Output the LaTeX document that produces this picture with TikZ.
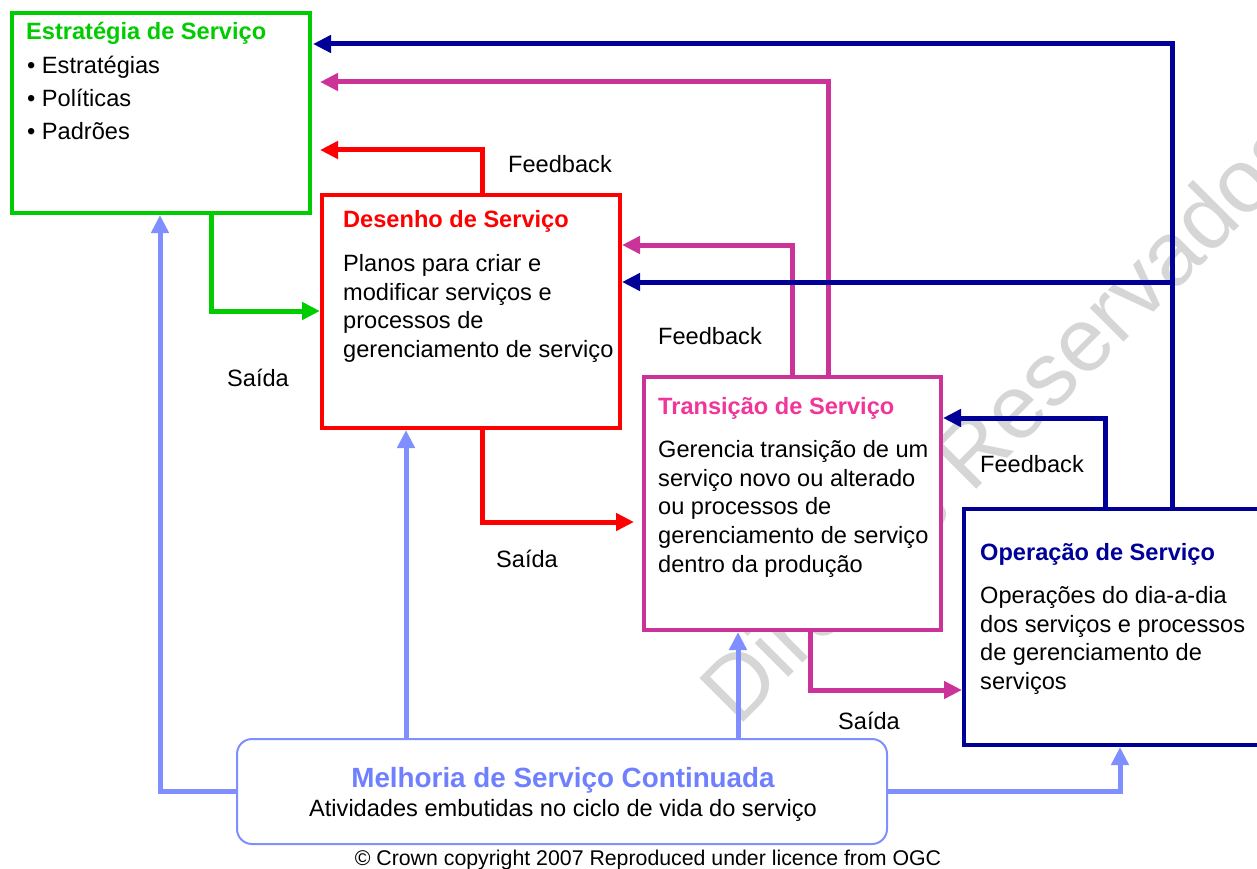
\documentclass[tikz,border=0pt]{standalone}
\usepackage{fontspec}
\setmainfont{Liberation Sans}
\usetikzlibrary{arrows.meta}

\definecolor{stratgreen}{HTML}{00CC00}
\definecolor{desred}{HTML}{FF0000}
\definecolor{transmag}{HTML}{CC3399}
\definecolor{transpink}{HTML}{F0359B}
\definecolor{opnavy}{HTML}{000099}
\definecolor{csiblue}{HTML}{7F8FFF}
\definecolor{csititle}{HTML}{6F80FF}
\definecolor{wmgray}{HTML}{D6D6D6}

\newcommand{\fsz}[1]{\fontsize{#1}{#1}\selectfont}

\begin{document}
\begin{tikzpicture}
        [x=1pt,y=-1pt,
        box/.style={draw=#1,fill=white,line width=4pt,minimum width=298pt,inner sep=0pt},
        ttl/.style={anchor=base west,inner sep=0pt,text=#1,font=\fsz{23.6}\bfseries},
        body/.style={anchor=north west,inner sep=0pt,align=left,font=\fontsize{23.6}{28.7}\selectfont},
        lbl/.style={inner sep=0pt,font=\fsz{23.6}},
        flow/.style={draw=#1,line width=5pt,-{Triangle[length=18pt,width=17pt]}}]
        \useasboundingbox (0,0) rectangle (1257,869);

        % watermark under everything
        \node[anchor=base west,inner sep=0pt,rotate=45,text=wmgray,font=\fsz{90}] (wmark) at (738,728) {Direitos Reservados};

        % the five phases
        \node[box=stratgreen,minimum height=200pt] (strat) at (161,113) {};
        \node[box=desred,minimum height=233pt] (design) at (471,311.5) {};
        \node[box=transmag,minimum width=297pt,minimum height=253pt] (trans) at (792.5,503.5) {};
        \node[box=opnavy,minimum width=300pt,minimum height=236pt] (oper) at (1114,627) {};
        \node[draw=csiblue,fill=white,line width=2pt,rounded corners=15pt,
          minimum width=650pt,minimum height=105pt] (csi) at (562,791.5) {};

        \node[ttl=stratgreen] (strat-t) at (26,40) {Estratégia de Serviço};
        \node[body,font=\fontsize{23.6}{33}\selectfont] (strat-b) at (27,56)
          {• Estratégias\\• Políticas\\• Padrões};
        \node[ttl=desred] (design-t) at (343,227) {Desenho de Serviço};
        \node[body] (design-b) at (343,254)
          {Planos para criar e\\modificar serviços e\\processos de\\gerenciamento de serviço};
        \node[ttl=transpink] (trans-t) at (658,414) {Transição de Serviço};
        \node[body] (trans-b) at (658,440)
          {Gerencia transição de um\\serviço novo ou alterado\\ou processos de\\gerenciamento de serviço\\dentro da produção};
        \node[ttl=opnavy] (oper-t) at (980,560) {Operação de Serviço};
        \node[body] (oper-b) at (980,586)
          {Operações do dia-a-dia\\dos serviços e processos\\de gerenciamento de\\serviços};
        \node[anchor=base,inner sep=0pt,text=csititle,font=\fsz{27.8}\bfseries] (csi-t) at (563,787)
          {Melhoria de Serviço Continuada};
        \node[anchor=base,inner sep=0pt,font=\fsz{23.6}] (csi-b) at (563,816)
          {Atividades embutidas no ciclo de vida do serviço};

        % feedback paths
        \draw[flow=opnavy,shorten >=1pt] (oper.north -| 1172,0) |- (strat.east |- 0,44);
        \draw[flow=transmag,shorten >=8pt] (trans.north -| 828,0) |- (strat.east |- 0,82);
        \draw[flow=desred,shorten >=8pt] (design.north -| 482,0) |- (strat.east |- 0,150);
        \draw[flow=transmag] (trans.north -| 792,0) |- (design.east |- 0,245);
        \coordinate (tap) at (1172,282);
        \draw[flow=opnavy] (tap) -- (design.east |- tap);
        \draw[flow=opnavy] (oper.north -| 1105,0) |- (trans.east |- 0,418);

        % outputs
        \draw[flow=stratgreen] (strat.south -| 211,0) |- (design.west |- 0,311);
        \draw[flow=desred,shorten >=8pt] (design.south -| 482,0) |- (trans.west |- 0,522);
        \draw[flow=transmag] (trans.south -| 810,0) |- (oper.west |- 0,690);

        % improvement
        \draw[flow=csiblue] (csi.west) -| (strat.south -| 160,0);
        \draw[flow=csiblue] (csi.north -| 406,0) -- (design.south -| 406,0);
        \draw[flow=csiblue] (csi.north -| 738,0) -- (trans.south -| 738,0);
        \draw[flow=csiblue] (csi.east) -| (oper.south -| 1120,0);

        \node[lbl] (fb1) at (560,164) {Feedback};
        \node[lbl] (fb2) at (710,336) {Feedback};
        \node[lbl] (fb3) at (1032,464) {Feedback};
        \node[lbl] (out1) at (258,378) {Saída};
        \node[lbl] (out2) at (527,559) {Saída};
        \node[lbl] (out3) at (869,721) {Saída};

        \node[anchor=base,inner sep=0pt,font=\fsz{21.3}] (copy) at (648,865)
          {© Crown copyright 2007 Reproduced under licence from OGC};
      \end{tikzpicture}
\end{document}
